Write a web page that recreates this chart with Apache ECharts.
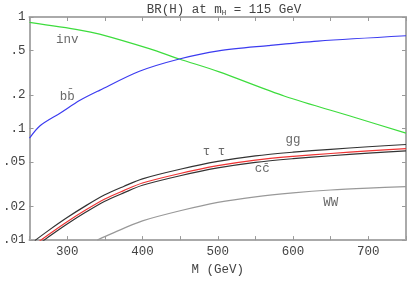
<!DOCTYPE html>
<html><head><meta charset="utf-8">
<script src="https://cdn.jsdelivr.net/npm/echarts@6/dist/echarts.min.js"></script>
<style>html,body{margin:0;padding:0;background:#fff}#c{width:409px;height:281px}</style>
</head><body><div id="c"></div>
<script>
// M (GeV) and branching ratios
const invData = [[250,0.894],[317,0.764],[343,0.702],[409,0.52],[449,0.42],[501,0.324],[589,0.195],[680,0.127],[750,0.091]];
const bbData = [[250,0.082],[264,0.106],[291,0.138],[317,0.179],[343,0.220],[396,0.326],[449,0.42],[501,0.497],[567,0.554],[633,0.608],[750,0.679]];
const ggData = [[257,0.00989],[275,0.01216],[300,0.01592],[325,0.02037],[350,0.02547],[375,0.03027],[400,0.03543],[450,0.04315],[500,0.05070],[550,0.05689],[600,0.06138],[650,0.06516],[700,0.06871],[750,0.07194]];
const tautauData = [[257,0.00907],[275,0.01115],[300,0.01460],[325,0.01868],[350,0.02336],[375,0.02776],[400,0.03249],[450,0.03957],[500,0.04649],[550,0.05217],[600,0.05629],[650,0.05975],[700,0.06301],[750,0.06597]];
const ccData = [[257,0.00865],[275,0.01064],[300,0.01393],[325,0.01782],[350,0.02229],[375,0.02649],[400,0.03100],[450,0.03776],[500,0.04436],[550,0.04978],[600,0.05371],[650,0.05702],[700,0.06012],[750,0.06295]];
const wwData = [[340,0.0100],[350,0.01074],[375,0.01274],[400,0.01489],[450,0.01832],[500,0.02178],[550,0.02443],[600,0.02649],[650,0.02812],[700,0.02924],[750,0.03013]];
const yTicks = [0.01,0.02,0.05,0.1,0.2,0.5,1];
const xLabels = [300,400,500,600,700];
const curveLabels = [
  {name:'inv', value:[300,0.623]},
  {name:'bb\u0304', value:[300,0.195]},
  {name:'gg', value:[600,0.079]},
  {name:'\u03c4 \u03c4', value:[495,0.0624]},
  {name:'cc\u0304', value:[559,0.0438]},
  {name:'WW', value:[650,0.0218]}
];

const FONT = "'Liberation Mono','DejaVu Sans Mono',monospace";
const AX = '#aaaaaa';
const TICK = '#999999';
const TXT = '#444444';
const chart = echarts.init(document.getElementById('c'), null, {renderer:'canvas'});
function ln(data, color){
  return {type:'line', data, showSymbol:false, symbol:'none', smooth:0.3, clip:true,
    lineStyle:{color, width:1.2}, silent:true, animation:false};
}
function tick(extra){
  return Object.assign({show:true, inside:true, length:4, lineStyle:{color:TICK, width:1}}, extra||{});
}
chart.setOption({
  animation:false,
  title:{text:'BR(H) at m{sub|H} = 115 GeV', left:219, top:-3, textAlign:'center',
    textStyle:{fontFamily:FONT, fontSize:12.5, fontWeight:'normal', color:TXT,
      rich:{sub:{fontFamily:FONT, fontSize:7.5, color:TXT, verticalAlign:'bottom', padding:[7,0,0,0]}}}},
  grid:{left:29, right:1, top:17, bottom:30},
  xAxis:[{type:'value', min:250, max:750, interval:50, name:'M (GeV)', nameLocation:'middle', nameGap:19,
    nameTextStyle:{fontFamily:FONT, fontSize:12.5, color:TXT},
    axisLine:{show:true, onZero:false, lineStyle:{color:AX, width:2}}, axisTick:tick(),
    splitLine:{show:false},
    axisLabel:{fontFamily:FONT, fontSize:12.5, color:TXT, margin:5,
      formatter:v=> xLabels.indexOf(v)>=0 ? String(v) : ''}},
   {type:'value', position:'top', min:250, max:750, interval:50,
    axisLine:{show:true, onZero:false, lineStyle:{color:AX, width:2}}, axisTick:tick(),
    axisLabel:{show:false}, splitLine:{show:false}}],
  yAxis:[{type:'log', logBase:10, min:0.01, max:1,
    axisLine:{show:true, onZero:false, lineStyle:{color:AX, width:2}},
    axisTick:tick({customValues:yTicks}),
    splitLine:{show:false}, minorTick:{show:false},
    axisLabel:{fontFamily:FONT, fontSize:12.5, color:TXT, margin:4, customValues:yTicks,
      formatter:v=> v>=1 ? '1' : String(+v.toPrecision(3)).replace(/^0/,'')}},
   {type:'log', logBase:10, min:0.01, max:1, position:'right',
    axisLine:{show:true, onZero:false, lineStyle:{color:AX, width:2}},
    axisTick:tick({customValues:yTicks}),
    axisLabel:{show:false}, splitLine:{show:false}}],
  series:[
    ln(invData,'#3ddc3d'),
    ln(bbData,'#3b3bf0'),
    ln(wwData,'#999999'),
    ln(ggData,'#333333'),
    ln(ccData,'#333333'),
    ln(tautauData,'#ee3333'),
    {type:'scatter', data:curveLabels, symbolSize:0, silent:true,
     label:{show:true, position:'inside', formatter:p=>p.name, fontFamily:FONT, fontSize:12.5, color:TXT}}
  ]
});
</script></body></html>
